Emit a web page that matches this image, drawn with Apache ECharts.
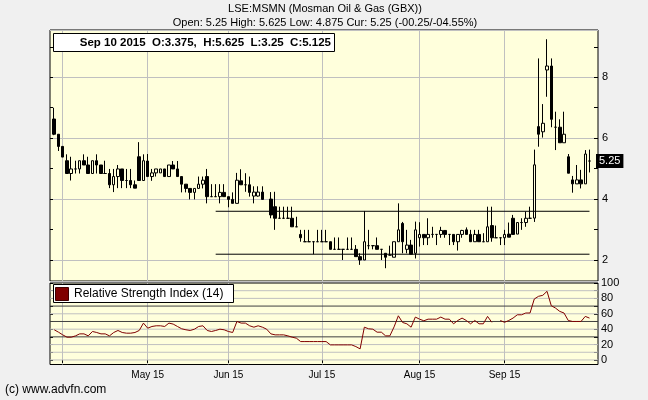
<!DOCTYPE html>
<html><head><meta charset="utf-8">
<script src="https://cdn.jsdelivr.net/npm/echarts@6/dist/echarts.min.js"></script>
<style>html,body{margin:0;padding:0;background:#f0f0f0;}#c{width:648px;height:400px;}</style>
</head><body><div id="c"></div>
<script>
// ---- data (UK trading days, 2015) ----
const dates = [
'2015-03-30','2015-03-31',
'2015-04-01','2015-04-02','2015-04-07','2015-04-08','2015-04-09','2015-04-10',
'2015-04-13','2015-04-14','2015-04-15','2015-04-16','2015-04-17',
'2015-04-20','2015-04-21','2015-04-22','2015-04-23','2015-04-24',
'2015-04-27','2015-04-28','2015-04-29','2015-04-30',
'2015-05-01','2015-05-05','2015-05-06','2015-05-07','2015-05-08',
'2015-05-11','2015-05-12','2015-05-13','2015-05-14','2015-05-15',
'2015-05-18','2015-05-19','2015-05-20','2015-05-21','2015-05-22',
'2015-05-26','2015-05-27','2015-05-28','2015-05-29',
'2015-06-01','2015-06-02','2015-06-03','2015-06-04','2015-06-05',
'2015-06-08','2015-06-09','2015-06-10','2015-06-11','2015-06-12',
'2015-06-15','2015-06-16','2015-06-17','2015-06-18','2015-06-19',
'2015-06-22','2015-06-23','2015-06-24','2015-06-25','2015-06-26',
'2015-06-29','2015-06-30',
'2015-07-01','2015-07-02','2015-07-03',
'2015-07-06','2015-07-07','2015-07-08','2015-07-09','2015-07-10',
'2015-07-13','2015-07-14','2015-07-15','2015-07-16','2015-07-17',
'2015-07-20','2015-07-21','2015-07-22','2015-07-23','2015-07-24',
'2015-07-27','2015-07-28','2015-07-29','2015-07-30','2015-07-31',
'2015-08-03','2015-08-04','2015-08-05','2015-08-06','2015-08-07',
'2015-08-10','2015-08-11','2015-08-12','2015-08-13','2015-08-14',
'2015-08-17','2015-08-18','2015-08-19','2015-08-20','2015-08-21',
'2015-08-24','2015-08-25','2015-08-26','2015-08-27','2015-08-28',
'2015-09-01','2015-09-02','2015-09-03','2015-09-04',
'2015-09-07','2015-09-08','2015-09-09','2015-09-10','2015-09-11',
'2015-09-14','2015-09-15','2015-09-16','2015-09-17','2015-09-18',
'2015-09-21','2015-09-22','2015-09-23','2015-09-24','2015-09-25',
'2015-09-28','2015-09-29'
];
const opens = [
6.63,6.13,5.73,5.26,4.84,4.99,4.99,5.26,5.12,4.84,
5.26,5.12,4.84,4.84,4.47,4.74,4.99,4.61,4.61,4.47,
5.39,4.61,5.25,4.74,4.86,4.86,4.99,4.74,5.12,4.99,
4.74,4.49,4.35,4.22,4.35,4.49,4.74,4.08,4.08,4.08,
4.22,4.08,3.99,3.86,4.60,4.47,4.47,4.10,4.10,4.23,
null,4.00,3.75,3.37,3.37,3.37,3.37,3.09,2.84,2.60,
2.60,2.60,2.60,2.60,2.60,2.60,2.35,2.35,2.35,2.35,
2.35,2.35,2.11,2.00,2.47,2.47,2.47,2.35,2.22,2.16,
2.09,2.60,3.20,2.35,2.49,2.22,2.73,2.84,2.73,2.84,
2.84,2.84,2.97,2.84,2.84,2.60,2.84,2.99,2.84,2.60,
2.84,2.60,2.60,3.13,2.73,2.73,2.73,2.85,3.37,2.85,
3.23,3.23,3.37,3.375,6.38,6.21,8.24,8.37,6.36,6.36,
5.85,5.39,4.63,4.50,4.63,4.50,5.25
];
const closes = [
6.13,5.73,5.38,4.84,4.99,4.99,5.26,5.12,4.84,5.26,
5.12,4.84,4.84,4.47,4.74,4.99,4.61,4.61,4.47,4.36,
4.61,5.26,4.74,4.86,4.99,4.99,4.74,5.12,4.99,4.74,
4.49,4.35,4.22,4.35,4.49,4.62,4.08,4.08,4.08,4.22,
4.08,3.99,3.86,4.62,4.47,4.47,4.22,4.23,4.23,3.99,
null,3.48,3.37,3.37,3.37,3.37,3.09,3.09,2.73,2.60,
2.60,2.60,2.60,2.60,2.60,2.35,2.35,2.35,2.35,2.35,
2.35,2.11,2.00,2.60,2.47,2.47,2.35,2.35,2.09,2.16,
2.60,2.99,2.60,2.49,2.19,2.99,2.84,2.73,2.84,2.84,
2.84,2.97,2.84,2.84,2.60,2.84,2.97,2.84,2.60,2.84,
2.60,2.60,3.09,2.73,2.73,2.73,2.84,2.75,2.84,3.23,
3.23,3.37,3.37,5.125,6.13,6.49,8.37,6.62,6.36,5.85,
6.13,4.85,4.50,4.63,4.50,5.48,5.25
];
const lows = [
6.10,5.58,5.38,4.84,4.61,4.84,4.84,5.12,4.84,4.84,
4.84,4.84,4.84,4.36,4.23,4.36,4.36,4.36,4.36,4.36,
4.61,4.61,4.74,4.60,4.74,4.86,4.74,4.74,4.99,4.74,
4.22,4.22,3.99,3.99,4.35,4.35,3.86,4.08,4.08,3.86,
4.08,3.73,3.86,3.86,4.47,4.24,4.08,3.86,4.08,3.99,
null,3.37,2.99,3.37,3.37,3.37,3.09,3.09,2.60,2.60,
2.60,2.19,2.60,2.60,2.60,2.35,2.35,2.35,2.00,2.35,
2.35,2.11,1.84,2.00,2.35,2.35,2.35,2.00,1.73,2.16,
2.09,2.60,2.22,2.22,2.19,2.05,2.44,2.49,2.49,2.73,
2.49,2.73,2.73,2.49,2.49,2.31,2.73,2.84,2.60,2.60,
2.60,2.60,2.60,2.60,2.73,2.49,2.49,2.75,2.84,2.85,
2.99,3.09,3.37,3.25,5.72,6.02,7.36,6.36,5.61,5.85,
5.85,4.85,4.21,4.50,4.35,4.50,4.875
];
const highs = [
7.00,6.13,5.73,5.47,5.39,5.26,5.26,5.47,5.39,5.26,
5.47,5.12,5.26,4.99,4.99,5.12,4.99,4.99,4.99,4.61,
5.87,5.47,5.48,4.99,4.99,4.99,4.99,5.12,5.25,5.25,
4.74,4.49,4.35,4.35,4.74,4.74,4.99,4.49,4.49,4.49,
4.49,4.08,4.22,4.86,4.98,4.85,4.74,4.42,4.42,4.42,
null,4.23,4.24,3.75,3.75,3.75,3.75,3.42,2.99,2.99,
2.99,2.60,2.99,2.99,2.99,2.60,2.74,2.74,2.35,2.74,
2.74,2.49,2.22,3.61,2.99,2.47,2.74,2.35,2.22,2.47,
2.60,3.86,3.25,2.99,2.66,3.26,3.24,2.84,3.37,3.09,
2.84,3.09,2.97,2.84,2.84,2.84,2.99,3.07,2.99,2.99,
2.99,2.88,3.75,3.75,3.13,2.73,2.99,3.23,3.48,3.23,
3.37,3.59,3.75,5.625,8.62,7.12,9.25,8.62,6.87,6.62,
6.87,5.48,4.76,5.12,4.96,5.61,5.625
];
const rsi = [
39.2,36.1,32.6,29.6,29.6,31.3,33.9,33.9,31.3,37.0,
35.7,33.9,33.9,31.3,35.7,38.3,35.7,34.8,34.8,35.7,
38.3,47.9,41.3,43.5,44.4,44.4,43.5,47.9,46.6,43.5,
40.5,39.2,38.3,40.0,43.5,44.4,38.3,37.0,38.3,40.0,
39.2,37.0,35.7,50.0,47.9,47.9,44.4,42.6,44.4,42.6,
40.0,33.9,32.6,32.6,32.6,31.3,29.6,28.3,23.9,23.9,
23.9,23.9,23.9,23.9,23.9,19.6,19.6,19.6,19.6,19.6,
19.6,17.4,14.4,42.6,40.5,40.0,36.1,36.1,31.3,31.3,
43.0,57.4,48.7,47.0,42.6,55.7,53.0,50.9,53.0,53.0,
53.0,55.7,53.0,53.0,47.0,51.3,54.4,51.3,47.0,51.3,
47.0,47.0,56.6,48.9,null,51.3,48.9,51.3,54.4,58.7,
58.7,61.0,61.0,79.2,82.7,84.0,89.2,70.5,67.4,63.1,
61.0,51.3,50.0,50.0,50.0,56.6,54.4
];
const monthStarts = [2, 22, 41, 63, 86, 106];
const monthLabels = ['', 'May 15', 'Jun 15', 'Jul 15', 'Aug 15', 'Sep 15'];
const priceTicks = [2, 3, 4, 5, 6, 7, 8, 9];
const priceLabels = [2, 4, 6, 8];
const priceMin = 1.31, priceMax = 9.553;
const rsiTicks = [0, 10, 20, 30, 40, 50, 60, 70, 80, 90, 100];
const rsiLabels = [0, 20, 40, 60, 80, 100];
const rsiLevels = [30, 50, 70];
const rsiGrid = [0, 10, 20, 40, 60, 80, 90];
const resistance = { from: 38, to: 126, value: 3.6 };
const support = { from: 38, to: 126, value: 2.19 };
const infoIdx = 113;
const titleText = 'LSE:MSMN (Mosman Oil & Gas (GBX))';
const subText = 'Open: 5.25 High: 5.625 Low: 4.875 Cur: 5.25 (-00.25/-04.55%)';

// ---- build ----
const PAD_L = 1, PAD_R = 2;
const cats = Array(PAD_L).fill('').concat(dates, Array(PAD_R).fill(''));
const LASTCAT = cats.length - 1;
const pad = a => Array(PAD_L).fill('-').concat(a, Array(PAD_R).fill('-'));
const candles = pad(dates.map((d, i) => opens[i] == null ? '-' : [opens[i], closes[i], lows[i], highs[i]]));
const rsiData = pad(rsi.map(v => v == null ? '-' : v));
const monthSet = new Set(monthStarts.map(i => i + PAD_L));
const isMonth = (i) => monthSet.has(i);
const labelFor = (i) => { const k = monthStarts.indexOf(i - PAD_L); return k >= 0 ? monthLabels[k] : ''; };
const MON = ['Jan','Feb','Mar','Apr','May','Jun','Jul','Aug','Sep','Oct','Nov','Dec'];
const dp = dates[infoIdx].split('-');
const infoText = MON[+dp[1]-1] + ' ' + (+dp[2]) + ' ' + dp[0] + '  O:' + opens[infoIdx] + ',  H:' + highs[infoIdx] + '  L:' + lows[infoIdx] + '  C:' + closes[infoIdx];
const last = closes[closes.length - 1];

const PANEL = '#ffffdc';
const FONT = '"Liberation Sans", Arial, sans-serif';
const GRIDC = '#c0c0c0';

const hLine = (v, color, xi, yi, z) => ({
  type: 'line', xAxisIndex: xi, yAxisIndex: yi, z: z, symbol: 'none', silent: true, animation: false,
  data: [[0, v], [LASTCAT, v]], lineStyle: { color: color, width: 1 }
});

const series = [];
rsiGrid.forEach(v => series.push(hLine(v, GRIDC, 1, 2, 1)));
rsiLevels.forEach(v => series.push(hLine(v, '#404040', 1, 2, 1)));
series.push(
  { type: 'candlestick', name: 'MSMN', xAxisIndex: 0, yAxisIndex: 0, data: candles, barWidth: 3, z: 3,
    itemStyle: { color: PANEL, color0: '#000', borderColor: '#000', borderColor0: '#000', borderWidth: 1 } },
  { type: 'line', name: 'resistance', xAxisIndex: 0, yAxisIndex: 0, z: 4, symbol: 'none', silent: true,
    data: [[resistance.from + PAD_L, resistance.value], [resistance.to + PAD_L, resistance.value]],
    lineStyle: { color: '#000', width: 1 },
    markLine: { silent: true, z: 6, symbol: 'none', animation: false,
      lineStyle: { color: 'rgba(0,0,0,0)', width: 0 },
      label: { show: true, position: 'end', formatter: String(last), color: '#fff', backgroundColor: '#000',
        padding: [2, 3, 1, 3], fontSize: 11, distance: -2, fontFamily: FONT },
      data: [{ yAxis: last }] } },
  { type: 'line', name: 'support', xAxisIndex: 0, yAxisIndex: 0, z: 4, symbol: 'none', silent: true,
    data: [[support.from + PAD_L, support.value], [support.to + PAD_L, support.value]],
    lineStyle: { color: '#000', width: 1 } },
  { type: 'line', name: 'RSI', xAxisIndex: 1, yAxisIndex: 2, data: rsiData, symbol: 'none', z: 3,
    connectNulls: false, lineStyle: { color: '#800000', width: 1 } }
);

const chart = echarts.init(document.getElementById('c'), null, { renderer: 'canvas' });
chart.setOption({
  animation: false,
  backgroundColor: '#f0f0f0',
  textStyle: { fontFamily: FONT },
  grid: [
    { left: 50, top: 30, width: 548, height: 251, show: true, backgroundColor: PANEL, borderColor: '#000', borderWidth: 1 },
    { left: 50, top: 283, width: 548, height: 81.5, show: true, backgroundColor: PANEL, borderColor: '#000', borderWidth: 1 }
  ],
  xAxis: [
    { type: 'category', gridIndex: 0, data: cats, boundaryGap: false,
      axisLine: { show: false }, axisTick: { show: false }, axisLabel: { show: false },
      splitLine: { show: true, interval: isMonth, lineStyle: { color: GRIDC, width: 1 } } },
    { type: 'category', gridIndex: 1, data: cats, boundaryGap: false,
      axisLine: { show: false },
      axisTick: { show: true, interval: isMonth, length: 3, lineStyle: { color: '#000' } },
      axisLabel: { interval: isMonth, formatter: (v, i) => labelFor(i), fontSize: 10, color: '#000', margin: 6, fontFamily: FONT },
      splitLine: { show: true, interval: isMonth, lineStyle: { color: GRIDC, width: 1 } } }
  ],
  yAxis: [
    { type: 'value', gridIndex: 0, position: 'right', min: priceMin, max: priceMax,
      axisLine: { show: false }, splitLine: { show: false },
      axisTick: { show: true, inside: true, length: 4, customValues: priceTicks, lineStyle: { color: '#000' } },
      axisLabel: { customValues: priceLabels, fontSize: 11, color: '#000', margin: 4, fontFamily: FONT } },
    { type: 'value', gridIndex: 0, position: 'left', min: priceMin, max: priceMax, splitNumber: 4,
      axisLine: { show: false }, axisLabel: { show: false }, axisTick: { show: false },
      splitLine: { show: true, lineStyle: { color: GRIDC, width: 1 } } },
    { type: 'value', gridIndex: 1, position: 'right', min: -5.9, max: 100,
      axisLine: { show: false }, splitLine: { show: false },
      axisTick: { show: true, inside: true, length: 4, customValues: rsiTicks, lineStyle: { color: '#000' } },
      axisLabel: { customValues: rsiLabels, fontSize: 11, color: '#000', margin: 3, fontFamily: FONT } },
    { type: 'value', gridIndex: 1, position: 'left', min: -5.9, max: 100,
      axisLine: { show: false }, splitLine: { show: false }, axisLabel: { show: false },
      axisTick: { show: true, inside: true, length: 3, customValues: rsiTicks, lineStyle: { color: '#000' } } },
    { type: 'value', gridIndex: 0, position: 'left', offset: 0, min: priceMin, max: priceMax,
      axisLine: { show: false }, splitLine: { show: false }, axisLabel: { show: false },
      axisTick: { show: true, inside: true, length: 3, customValues: priceTicks, lineStyle: { color: '#000' } } }
  ],
  series: series,
  graphic: [
    { type: 'text', z: 50, style: { x: 325, y: 9, text: titleText, textAlign: 'center', textVerticalAlign: 'middle', font: '11px ' + FONT, fill: '#000' } },
    { type: 'text', z: 50, style: { x: 325, y: 23, text: subText, textAlign: 'center', textVerticalAlign: 'middle', font: '11px ' + FONT, fill: '#000' } },
    { type: 'rect', z: 50, shape: { x: 53.5, y: 33.5, width: 281, height: 18 }, style: { fill: '#fff', stroke: '#000', lineWidth: 1 } },
    { type: 'text', z: 51, style: { x: 331, y: 43, text: infoText, textAlign: 'right', textVerticalAlign: 'middle', font: 'bold 11.5px ' + FONT, fill: '#000' } },
    { type: 'rect', z: 50, shape: { x: 53.5, y: 284.5, width: 180, height: 18 }, style: { fill: '#fff', stroke: '#000', lineWidth: 1 } },
    { type: 'rect', z: 51, shape: { x: 55.5, y: 287.5, width: 13, height: 13 }, style: { fill: '#800000', stroke: '#400000', lineWidth: 1 } },
    { type: 'text', z: 51, style: { x: 74, y: 294, text: 'Relative Strength Index (14)', textVerticalAlign: 'middle', font: '12px ' + FONT, fill: '#000' } },
    { type: 'text', z: 50, style: { x: 5, y: 390, text: '(c) www.advfn.com', textVerticalAlign: 'middle', font: '12px ' + FONT, fill: '#000' } }
  ]
});
</script>
</body></html>
